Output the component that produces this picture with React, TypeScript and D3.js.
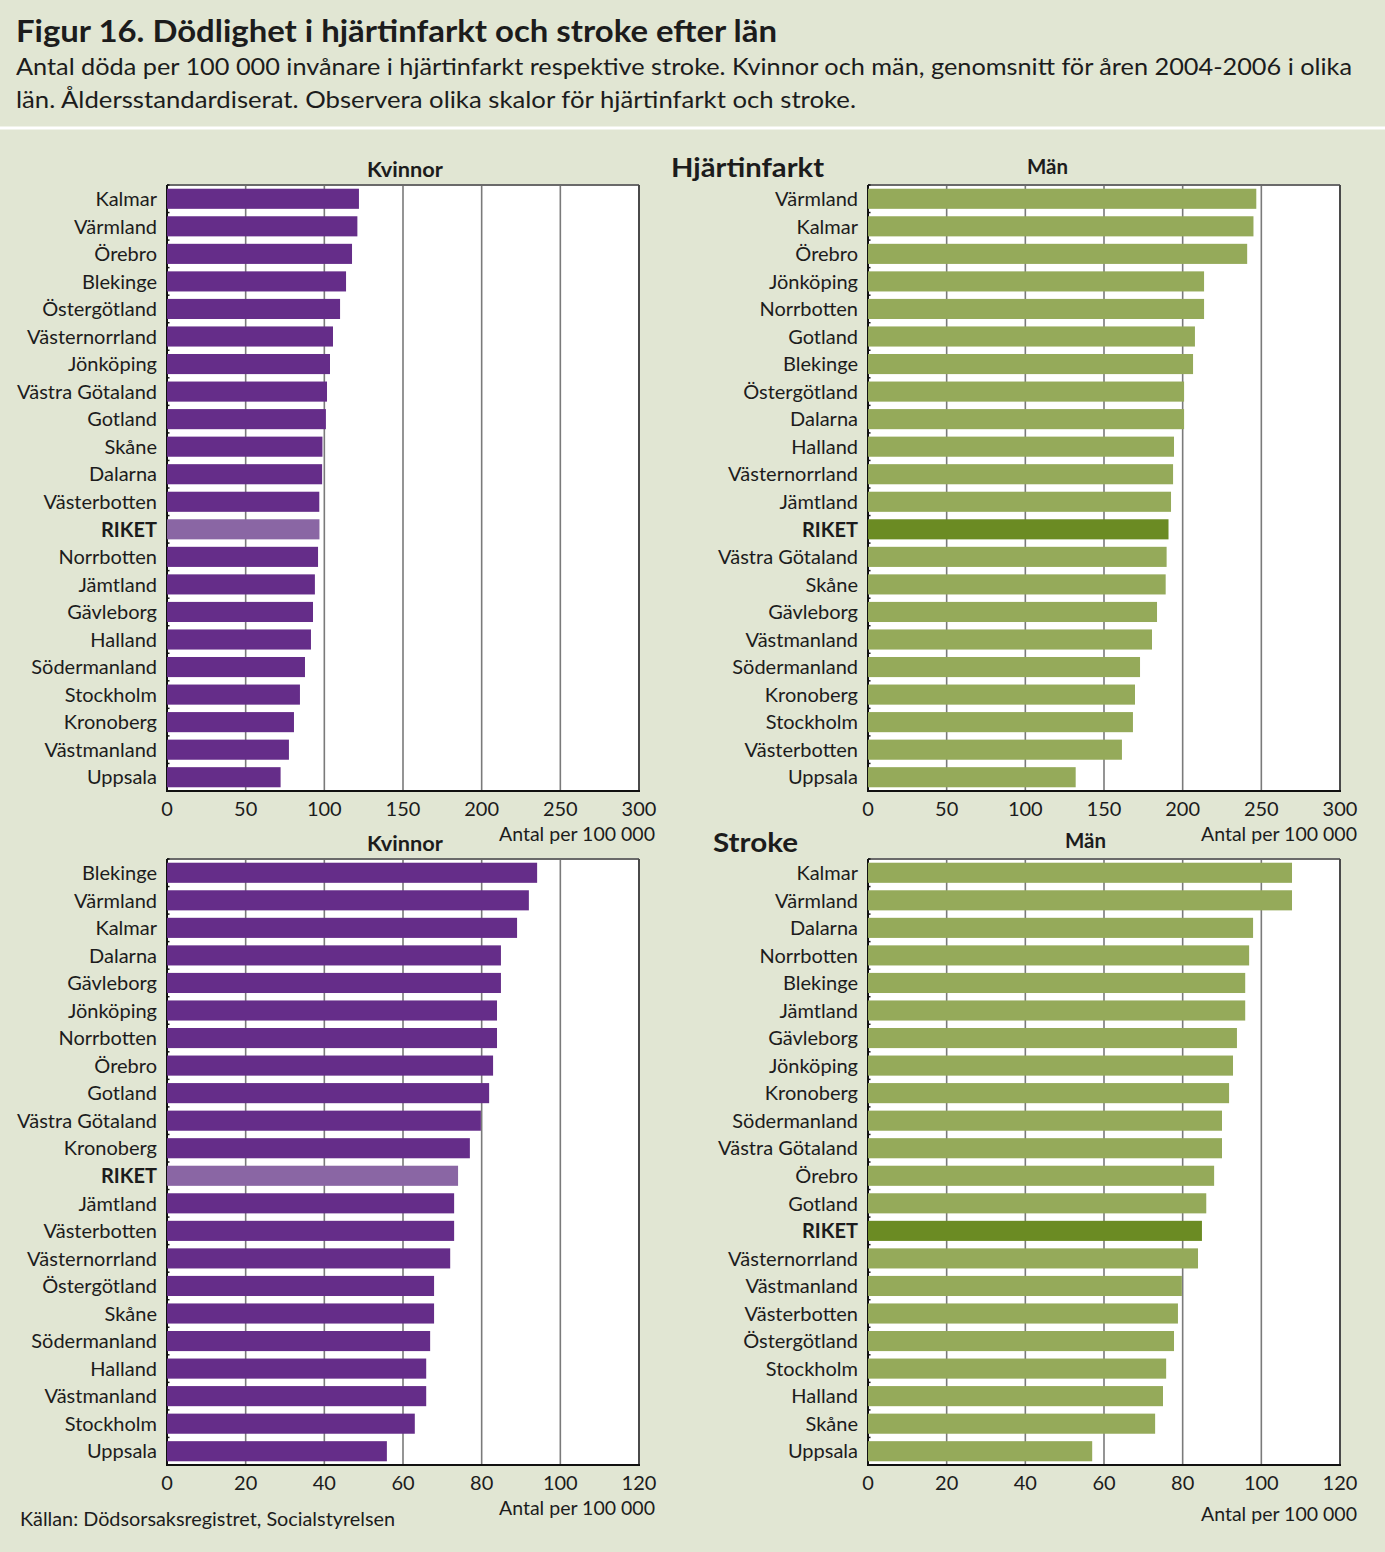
import React from "react";
import * as d3 from "d3";

// ---- Data ----
const hjKvinnorLan = ["Kalmar","Värmland","Örebro","Blekinge","Östergötland","Västernorrland","Jönköping","Västra Götaland","Gotland","Skåne","Dalarna","Västerbotten","RIKET","Norrbotten","Jämtland","Gävleborg","Halland","Södermanland","Stockholm","Kronoberg","Västmanland","Uppsala"];
const hjKvinnorVal = [122,121,117.6,113.8,110,105.5,103.6,101.7,101,98.8,98.6,96.8,96.9,96,94,92.8,91.5,87.7,84.5,80.7,77.5,72.2];

const hjManLan = ["Värmland","Kalmar","Örebro","Jönköping","Norrbotten","Gotland","Blekinge","Östergötland","Dalarna","Halland","Västernorrland","Jämtland","RIKET","Västra Götaland","Skåne","Gävleborg","Västmanland","Södermanland","Kronoberg","Stockholm","Västerbotten","Uppsala"];
const hjManVal = [246.8,245,241,213.6,213.6,207.8,206.6,200.9,200.9,194.5,193.9,192.6,191,189.8,189.2,183.7,180.5,172.9,169.7,168.4,161.4,132];

const stKvinnorLan = ["Blekinge","Värmland","Kalmar","Dalarna","Gävleborg","Jönköping","Norrbotten","Örebro","Gotland","Västra Götaland","Kronoberg","RIKET","Jämtland","Västerbotten","Västernorrland","Östergötland","Skåne","Södermanland","Halland","Västmanland","Stockholm","Uppsala"];
const stKvinnorVal = [94.1,92,89,84.9,84.9,83.9,83.9,82.9,81.9,79.8,77,74,73,73,72,67.9,67.9,66.9,65.9,65.9,63,55.9];

const stManLan = ["Kalmar","Värmland","Dalarna","Norrbotten","Blekinge","Jämtland","Gävleborg","Jönköping","Kronoberg","Södermanland","Västra Götaland","Örebro","Gotland","RIKET","Västernorrland","Västmanland","Västerbotten","Östergötland","Stockholm","Halland","Skåne","Uppsala"];
const stManVal = [107.8,107.8,97.9,96.9,95.9,95.9,93.8,92.8,91.8,90,90,88,86,84.9,83.9,79.8,78.8,77.8,75.8,75,73,57];

const hjTicks = [0,50,100,150,200,250,300];
const stTicks = [0,20,40,60,80,100,120];

const FONT = "Lato, 'Open Sans', sans-serif";
const TXT = "#1c1c1c";

type PanelProps = {
  x0: number; y0: number; w: number; h: number;
  cats: string[]; vals: number[]; ticks: number[];
  color: string; hiColor: string; unitY: number; unitRight: number;
};

function Panel({ x0, y0, w, h, cats, vals, ticks, color, hiColor, unitY, unitRight }: PanelProps) {
  const x = d3.scaleLinear().domain([0, ticks[ticks.length - 1]]).range([x0, x0 + w]);
  const y = d3.scaleBand<string>().domain(cats).range([y0, y0 + h]).paddingInner(0.27).paddingOuter(0.135);
  const step = y.step();
  return (
    <g>
      <rect x={x0} y={y0} width={w} height={h} fill="#ffffff" />
      {ticks.slice(1).map((t) => (
        <line key={"g" + t} x1={x(t)} x2={x(t)} y1={y0} y2={y0 + h} stroke="#7a7a7a" strokeWidth={1.6} />
      ))}
      <line x1={x0} x2={x0 + w} y1={y0} y2={y0} stroke="#6a6a6a" strokeWidth={2} />
      <line x1={x0 + w} x2={x0 + w} y1={y0} y2={y0 + h} stroke="#4a4a4a" strokeWidth={2} />
      <line x1={x0} x2={x0} y1={y0} y2={y0 + h + 1} stroke="#111" strokeWidth={2} />
      {cats.map((c, i) => (
        <line key={"t" + i} x1={x0} x2={x0 + 2.5} y1={y0 + i * step} y2={y0 + i * step} stroke="#111" strokeWidth={1.5} />
      ))}
      <line x1={x0 - 1} x2={x0 + w + 1} y1={y0 + h} y2={y0 + h} stroke="#111" strokeWidth={2} />
      {cats.map((c, i) => (
        <rect key={"b" + c} x={x(0)} y={y(c)!} width={x(vals[i]) - x(0)} height={y.bandwidth()}
          fill={c === "RIKET" ? hiColor : color} />
      ))}
      {cats.map((c) => (
        <text key={"l" + c} x={x0 - 10} y={y(c)! + y.bandwidth() / 2} dy="0.36em" textAnchor="end"
          fontFamily={FONT} fontSize={20} fontWeight={c === "RIKET" ? 700 : 400} fill={TXT}>{c}</text>
      ))}
      {ticks.map((t) => (
        <text key={"x" + t} x={x(t)} y={y0 + h + 25} textAnchor="middle" fontFamily={FONT} fontSize={20} fill={TXT}>{t}</text>
      ))}
      <text x={unitRight} y={unitY} textAnchor="end" fontFamily={FONT} fontSize={20} fill={TXT}
        textLength={156} lengthAdjust="spacingAndGlyphs">Antal per 100 000</text>
    </g>
  );
}

export default function App() {
  const W = 1385, H = 1552;
  const purple = "#652d89", purpleHi = "#8a66a4";
  const green = "#95aa5a", greenHi = "#6b8b23";
  return (
    <div style={{ position: "absolute", left: 0, top: 0 }}>
      <svg width={W} height={H} style={{ display: "block" }}>
        <rect x={0} y={0} width={W} height={H} fill="#e1e6d3" />
        <text x={16} y={42} fontFamily={FONT} fontWeight={700} fontSize={30} fill={TXT}
          textLength={761} lengthAdjust="spacingAndGlyphs">Figur 16. Dödlighet i hjärtinfarkt och stroke efter län</text>
        <text x={16} y={75} fontFamily={FONT} fontSize={24} fill={TXT}
          textLength={1336} lengthAdjust="spacingAndGlyphs">Antal döda per 100 000 invånare i hjärtinfarkt respektive stroke. Kvinnor och män, genomsnitt för åren 2004-2006 i olika</text>
        <text x={16} y={108} fontFamily={FONT} fontSize={24} fill={TXT}
          textLength={840} lengthAdjust="spacingAndGlyphs">län. Åldersstandardiserat. Observera olika skalor för hjärtinfarkt och stroke.</text>
        <line x1={0} x2={W} y1={128} y2={128} stroke="#ffffff" strokeWidth={3} />

        <text x={367} y={177} fontFamily={FONT} fontWeight={700} fontSize={20} fill={TXT}
          textLength={76} lengthAdjust="spacingAndGlyphs">Kvinnor</text>
        <text x={1027} y={174} fontFamily={FONT} fontWeight={700} fontSize={20} fill={TXT}
          textLength={41} lengthAdjust="spacingAndGlyphs">Män</text>
        <text x={671} y={177} fontFamily={FONT} fontWeight={700} fontSize={27} fill={TXT}
          textLength={153} lengthAdjust="spacingAndGlyphs">Hjärtinfarkt</text>
        <text x={367} y={851} fontFamily={FONT} fontWeight={700} fontSize={20} fill={TXT}
          textLength={76} lengthAdjust="spacingAndGlyphs">Kvinnor</text>
        <text x={1065} y={848} fontFamily={FONT} fontWeight={700} fontSize={20} fill={TXT}
          textLength={41} lengthAdjust="spacingAndGlyphs">Män</text>
        <text x={713} y={852} fontFamily={FONT} fontWeight={700} fontSize={27} fill={TXT}
          textLength={85} lengthAdjust="spacingAndGlyphs">Stroke</text>

        <Panel x0={167} y0={185} w={472} h={606} cats={hjKvinnorLan} vals={hjKvinnorVal} ticks={hjTicks}
          color={purple} hiColor={purpleHi} unitY={841} unitRight={655} />
        <Panel x0={868} y0={185} w={472} h={606} cats={hjManLan} vals={hjManVal} ticks={hjTicks}
          color={green} hiColor={greenHi} unitY={841} unitRight={1357} />
        <Panel x0={167} y0={859} w={472} h={606} cats={stKvinnorLan} vals={stKvinnorVal} ticks={stTicks}
          color={purple} hiColor={purpleHi} unitY={1515} unitRight={655} />
        <Panel x0={868} y0={859} w={472} h={606} cats={stManLan} vals={stManVal} ticks={stTicks}
          color={green} hiColor={greenHi} unitY={1521} unitRight={1357} />

        <text x={20} y={1526} fontFamily={FONT} fontSize={19.5} fill={TXT}
          textLength={375} lengthAdjust="spacingAndGlyphs">Källan: Dödsorsaksregistret, Socialstyrelsen</text>
      </svg>
    </div>
  );
}
